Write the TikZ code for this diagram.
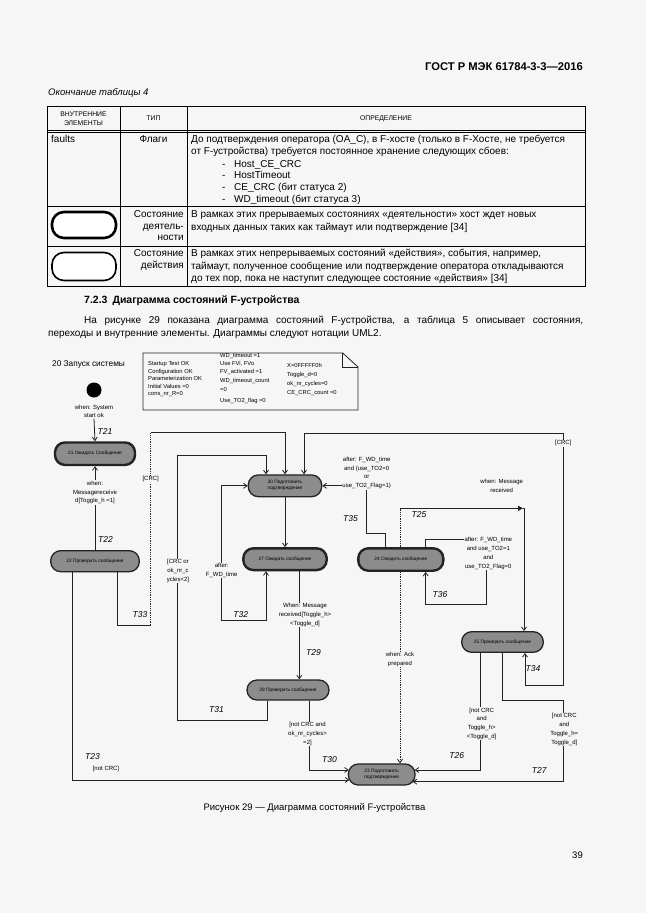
\documentclass[tikz,border=0pt]{standalone}
\usepackage{fontspec}
\setmainfont{Liberation Sans}
\usetikzlibrary{arrows.meta}
\definecolor{bgc}{RGB}{246,246,246}
\definecolor{stc}{RGB}{140,140,140}
\definecolor{lnc}{RGB}{35,35,35}
\newcommand{\myfs}[2]{\fontsize{#1}{#2}\selectfont}
\newcommand{\lidash}[1]{\makebox[12pt][l]{-}#1}
\begin{document}
\begin{tikzpicture}[x=1pt,y=-1pt,
  ln/.style={draw=lnc, line width=0.8pt},
  arr/.style={ln, -{Straight Barb[length=3.5pt,width=5pt]}},
  darr/.style={ln, {Straight Barb[length=3.5pt,width=5pt]}-{Straight Barb[length=3.5pt,width=5pt]}},
  dotl/.style={ln, densely dotted},
  actst/.style={draw=lnc, line width=2.4pt, fill=stc, rounded corners=10pt, inner sep=0pt, font=\myfs{4.8}{6}, align=center},
  acnst/.style={draw=lnc, line width=1.3pt, fill=stc, rounded corners=10pt, inner sep=0pt, font=\myfs{4.8}{6}, align=center},
  lbl/.style={font=\myfs{6}{8.8}, align=center, fill=bgc, inner sep=0.6pt},
  tl/.style={font=\itshape\myfs{8.5}{10}, inner sep=0pt},
  tx/.style={font=\myfs{10}{12}, anchor=west, inner sep=0pt, text height=7.2pt, text depth=2.2pt},
  txr/.style={font=\myfs{10}{12}, anchor=east, inner sep=0pt, text height=7.2pt, text depth=2.2pt},
  nt/.style={font=\myfs{5.8}{7}, anchor=west, inner sep=0pt, text height=4.2pt, text depth=1.2pt},
  tab/.style={line width=0.9pt, draw=black}
]
\fill[bgc] (0,0) rectangle (646,913);
\useasboundingbox (0,0) rectangle (646,913);

% ---------- header ----------
\node[anchor=east, font=\bfseries\myfs{11.2}{13}, inner sep=0pt] (hdr) at (583,67) {ГОСТ Р МЭК 61784-3-3—2016};
\node[anchor=west, font=\itshape\myfs{9.5}{11}, inner sep=0pt] (cont) at (48,92.5) {Окончание таблицы 4};

% ---------- table ----------
\draw[tab] (47,106.7) rectangle (585,286.7);
\draw[line width=0.7pt] (47,130) -- (585,130);
\draw[line width=0.7pt] (47,132.3) -- (585,132.3);
\draw[tab] (47,206.7) -- (585,206.7);
\draw[tab] (47,246.7) -- (585,246.7);
\draw[tab] (120,106.7) -- (120,286.7);
\draw[tab] (187,106.7) -- (187,286.7);

\node[font=\myfs{6.8}{9.5}, align=center] (h1) at (83.5,118.5) {ВНУТРЕННИЕ\\ЭЛЕМЕНТЫ};
\node[font=\myfs{6.8}{9.5}] (h2) at (153.5,118.5) {ТИП};
\node[font=\myfs{6.8}{9.5}] (h3) at (386,118.5) {ОПРЕДЕЛЕНИЕ};

\node[tx] (r1a) at (51,140) {faults};
\node[tx, anchor=center] (r1b) at (153.5,140) {Флаги};
\node[tx] (r1c1) at (191,140) {До подтверждения оператора (OA\_C), в F-хосте (только в F-Хосте, не требуется};
\node[tx] (r1c2) at (191,152) {от F-устройства) требуется постоянное хранение следующих сбоев:};
\node[tx] (r1e1) at (222,164.5) {\lidash{Host\_CE\_CRC}};
\node[tx] (r1e2) at (222,176) {\lidash{HostTimeout}};
\node[tx] (r1e3) at (222,187.5) {\lidash{CE\_CRC (бит статуса 2)}};
\node[tx] (r1e4) at (222,199.5) {\lidash{WD\_timeout (бит статуса 3)}};

\node[draw=black, line width=2.6pt, fill=white, rounded corners=12pt, minimum width=64pt, minimum height=26pt] (ico1) at (84,225) {};
\node[txr] (r2b1) at (184,215) {Состояние};
\node[txr] (r2b2) at (184,226.7) {деятель-};
\node[txr] (r2b3) at (184,238.3) {ности};
\node[tx] (r2c1) at (191,215) {В рамках этих прерываемых состояниях «деятельности» хост ждет новых};
\node[tx] (r2c2) at (191,228) {входных данных таких как таймаут или подтверждение [34]};

\node[draw=black, line width=1.6pt, fill=white, rounded corners=12pt, minimum width=64pt, minimum height=28pt] (ico2) at (84,266.5) {};
\node[txr] (r3b1) at (184,253.5) {Состояние};
\node[txr] (r3b2) at (184,266) {действия};
\node[tx] (r3c1) at (191,253.5) {В рамках этих непрерываемых состояний «действия», события, например,};
\node[tx] (r3c2) at (191,266.5) {таймаут, полученное сообщение или подтверждение оператора откладываются};
\node[tx] (r3c3) at (191,279) {до тех пор, пока не наступит следующее состояние «действия» [34]};

% ---------- section text ----------
\node[anchor=west, font=\bfseries\myfs{10.5}{12}, inner sep=0pt] (sec) at (84,301) {7.2.3\hspace{5pt}Диаграмма состояний F-устройства};
\node[tx] (par1) at (84,321) {\makebox[499pt][s]{На рисунке 29 показана диаграмма состояний F-устройства, а таблица 5 описывает состояния,}};
\node[tx] (par2) at (48,334) {переходы и внутренние элементы. Диаграммы следуют нотации UML2.};

% ---------- diagram ----------
\node[anchor=west, font=\myfs{8.3}{10}, inner sep=0pt] (start) at (52,364) {20 Запуск системы};

% note
\draw[ln] (143,353) -- (342.7,353) -- (358,367) -- (358,410) -- (143,410) -- cycle;
\draw[ln, line width=0.6pt] (342.7,353) -- (342.7,367) -- (358,367);
\node[nt] (n11) at (148,364) {Startup Test OK};
\node[nt] (n12) at (148,371.7) {Configuration OK};
\node[nt] (n13) at (148,379.3) {Parameterization OK};
\node[nt] (n14) at (148,386.8) {Initial Values =0};
\node[nt] (n15) at (148,394.3) {cons\_nr\_R=0};
\node[nt] (n21) at (220,356) {WD\_timeout =1};
\node[nt] (n22) at (220,364) {Use FVi, FVo};
\node[nt] (n23) at (220,372) {FV\_activated =1};
\node[nt] (n24) at (220,380.5) {WD\_timeout\_count};
\node[nt] (n25) at (220,389.5) {=0};
\node[nt] (n26) at (220,401) {Use\_TO2\_flag =0};
\node[nt] (n31) at (287,366) {X=0FFFFF0h};
\node[nt] (n32) at (287,375) {Toggle\_d=0};
\node[nt] (n33) at (287,384.3) {ok\_nr\_cycles=0};
\node[nt] (n34) at (287,393.3) {CE\_CRC\_count =0};

% initial
\node[circle, fill=black, inner sep=0pt, minimum size=15pt] (init) at (94,390) {};
\node[lbl] (lstart) at (94,411.3) {when: System\\start ok};

% states
\node[actst, minimum width=80pt, minimum height=22.5pt] (s21) at (95,453.7) {21 Ожидать Сообщение};
\node[acnst, minimum width=88.6pt, minimum height=21pt] (s22) at (95,561.2) {22 Проверить сообщение};
\node[acnst, minimum width=73.4pt, minimum height=21.7pt] (s30) at (285,485.8) {30 Подготовить\\подтверждение};
\node[actst, minimum width=83.4pt, minimum height=21.7pt] (s27) at (285,559.2) {27 Ожидать сообщение};
\node[acnst, minimum width=82pt, minimum height=20pt] (s28) at (288,690) {28 Проверить сообщение};
\node[actst, minimum width=85pt, minimum height=22.4pt] (s24) at (400.8,559.5) {24 Ожидать сообщение};
\node[acnst, minimum width=81.6pt, minimum height=20.6pt] (s25) at (502.5,642) {25 Проверить сообщение};
\node[acnst, minimum width=66.7pt, minimum height=21pt] (s23) at (381.7,774.5) {23 Подготовить\\подтверждение};

% bend coordinates
\coordinate (c33a) at (150.7,625);
\coordinate (c33b) at (150.7,432.7);
\coordinate (c31a) at (177.7,720);
\coordinate (c31b) at (177.7,455);
\coordinate (c32a) at (221.7,620);
\coordinate (c35a) at (366.7,533.3);
\coordinate (c25a) at (400,508.3);
\coordinate (c25b) at (523,508.3);
\coordinate (c36a) at (486,539.3);
\coordinate (c36b) at (486,604.3);
\coordinate (c34a) at (563.3,685);
\coordinate (c34b) at (563.3,433.3);
\coordinate (c27a) at (563.3,700.7);

% T21
\draw[arr] (lstart.south) -- (s21.north);
% T22
\draw[arr] (s22.north) -- (s21.south);
% T23
\draw[arr] ([xshift=-22.3pt]s22.south) |- ([xshift=1.6pt,yshift=-5.5pt]s23.west);
% T33
\draw[ln] ([xshift=22.3pt]s22.south) |- (c33a);
\draw[dotl] (c33a) -- (c33b);
\draw[arr] (c33b) -| (s30.north);
% T31
\draw[arr] ([xshift=-20.7pt]s28.south) |- (c31a) |- (c31b) -| ([xshift=-19pt]s30.north);
% T32
\draw[darr] ([xshift=-19pt]s27.south) |- (c32a) |- (s30.west);
% T28
\draw[arr] (s30.south) -- (s27.north);
% T29
\draw[arr] ([xshift=14.3pt]s27.south) -- ([xshift=11.3pt]s28.north);
% T30
\draw[arr] ([xshift=21.3pt]s28.south) |- ([xshift=1pt,yshift=4.5pt]s23.west);
% Ack
\draw[dotl, -{Straight Barb[length=3.5pt,width=5pt]}] ([xshift=-0.8pt]s24.south) -- ([xshift=18.3pt]s23.north);
% T35
\draw[arr] ([xshift=-15.8pt]s24.north) |- (c35a) |- (s30.east);
% T25
\draw[dotl] ([xshift=-0.8pt]s24.north) -- (c25a);
\draw[ln, -{Triangle[length=5pt,width=5pt]}] (c25a) -- (c25b);
\draw[arr] (c25b) -| ([xshift=21.5pt]s25.north);
% T36
\draw[arr] ([xshift=24.9pt]s24.north) |- (c36a) |- (c36b) -| ([xshift=24.9pt]s24.south);
% T34
\draw[darr] ([xshift=22.5pt]s25.south) |- (c34a) |- (c34b) -| ([xshift=19pt]s30.north);
% T26
\draw[arr] ([xshift=-21.8pt]s25.south) |- ([xshift=-1pt,yshift=4.5pt]s23.east);
% T27
\draw[arr] ([xshift=0.2pt]s25.south) |- (c27a) |- ([xshift=-3pt,yshift=-7.2pt]s23.east);

% guard labels
\node[lbl] (g22) at (95,492.5) {when:\\Messagereceive\\d[Toggle\_h =1]};
\node[lbl] (g33) at (150.7,479.3) {[CRC]};
\node[lbl] (g31) at (178,570.7) {[CRC or\\ok\_nr\_c\\ycles<2]};
\node[lbl] (g32) at (221.7,570.3) {after:\\F\_WD\_time};
\node[lbl] (g29) at (305,615) {When: Message\\received[Toggle\_h>\\<Toggle\_d]};
\node[lbl] (g30) at (307.5,734) {[not CRC and\\ok\_nr\_cycles>\\=2]};
\node[lbl] (g23) at (106,769.3) {[not CRC]};
\node[lbl] (gack) at (400,659.5) {when: Ack\\prepared};
\node[lbl] (g35) at (366.7,473) {after: F\_WD\_time\\and (use\_TO2=0\\or\\use\_TO2\_Flag=1)};
\node[lbl] (g25) at (501.7,486.2) {when: Message\\received};
\node[lbl] (g36) at (488.3,553.4) {after: F\_WD\_time\\and use\_TO2=1\\and\\use\_TO2\_Flag=0};
\node[lbl] (g34) at (563.3,443.3) {[CRC]};
\node[lbl] (g26) at (481.7,723.8) {[not CRC\\and\\Toggle\_h>\\<Toggle\_d]};
\node[lbl] (g27) at (564.3,729.6) {[not CRC\\and\\Toggle\_h=\\Toggle\_d]};

% transition names
\node[tl] (t21) at (105,431.7) {T21};
\node[tl] (t22) at (105.5,539.3) {T22};
\node[tl] (t23) at (92.5,756.7) {T23};
\node[tl] (t33) at (140,615) {T33};
\node[tl] (t32) at (240.8,615) {T32};
\node[tl] (t31) at (216.5,709.3) {T31};
\node[tl] (t29) at (313.5,652.7) {T29};
\node[tl] (t30) at (329.5,759.3) {T30};
\node[tl] (t35) at (350.5,519) {T35};
\node[tl] (t25) at (419,515) {T25};
\node[tl] (t36) at (440,595) {T36};
\node[tl] (t34) at (533,669) {T34};
\node[tl] (t26) at (456.7,756) {T26};
\node[tl] (t27) at (539.3,770.7) {T27};

% caption and page number
\node[font=\myfs{9.5}{12}, inner sep=0pt] (cap) at (314.5,807.5) {Рисунок 29 — Диаграмма состояний F-устройства};
\node[anchor=east, font=\myfs{9.5}{12}, inner sep=0pt] (pg) at (583,855) {39};
\end{tikzpicture}
\end{document}
